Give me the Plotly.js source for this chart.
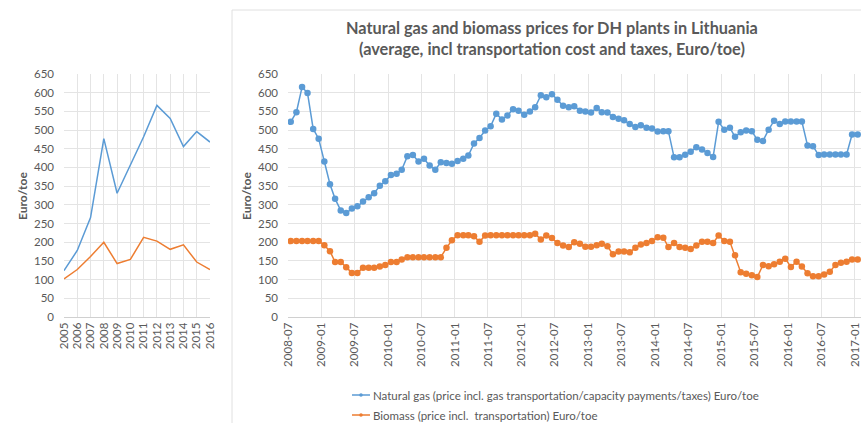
<!DOCTYPE html>
<html>
<head>
<meta charset="utf-8">
<script src="https://cdn.plot.ly/plotly-3.0.1.min.js"></script>
<style>html,body{margin:0;padding:0;background:#fff;overflow:hidden}#chart{width:861px;height:423px}</style>
</head>
<body>
<div id="chart"></div>
<script>
// Annual panel
const years = [2005,2006,2007,2008,2009,2010,2011,2012,2013,2014,2015,2016];
const annualGas = [124,178,266,477,331,405,482,566,531,456,496,468];
const annualBio = [102,127,162,200,143,154,213,203,181,193,147,127];

// Monthly panel (2008-07 .. 2017-01)
const startYear = 2008, startMonth = 7;
const monthlyGas = [
  522,548,615,599,503,477,416,355,316,285,
  278,290,296,309,320,331,351,363,380,383,
  394,430,433,416,423,405,394,414,412,410,
  417,423,432,464,479,499,510,544,528,539,
  556,552,541,550,561,593,588,596,581,565,
  561,564,552,550,547,559,548,547,535,530,
  526,516,508,513,506,504,496,497,497,427,
  427,434,442,454,448,439,428,522,501,506,
  482,494,499,497,474,471,501,525,516,523,
  523,523,523,459,457,433,435,435,435,435,
  435,488,488
];
const monthlyBio = [
  203,203,203,203,203,203,192,176,147,147,
  133,118,118,132,132,132,135,139,147,147,
  154,160,160,160,160,160,160,160,185,205,
  219,219,219,216,201,218,219,219,219,219,
  219,219,219,219,223,207,218,211,198,191,
  187,200,196,188,188,192,196,189,168,175,
  175,173,185,194,198,203,213,212,187,198,
  187,185,182,191,201,201,198,218,203,201,
  165,120,116,112,107,139,136,141,148,156,
  134,148,135,117,109,109,114,121,139,145,
  148,154,154
];
const seriesNames = [
  'Natural gas (price incl. gas transportation/capacity payments/taxes) Euro/toe',
  'Biomass (price incl.  transportation) Euro/toe'
];
const titleText = '<b>Natural gas and biomass prices for DH plants in Lithuania</b><br><b>(average, incl transportation cost and taxes, Euro/toe)</b>';
const yTitle = 'Euro/toe';

// month categories, placed mid-month (Excel draws points between tick marks)
const months = monthlyGas.map((_, i) => {
  const m = startMonth - 1 + i;
  const y = startYear + Math.floor(m / 12);
  const mm = (m % 12) + 1;
  return y + '-' + String(mm).padStart(2, '0') + '-16';
});

const BLUE = '#5B9BD5', ORANGE = '#ED7D31', TXT = '#595959', GRID = '#e4e4e4';
const COLORS = [BLUE, ORANGE];
const FONT = 'Lato, "Open Sans", sans-serif';
const W = 861, H = 423;
const px = v => v / W, py = v => 1 - v / H;

const traces = [
  {x: years, y: annualGas, xaxis: 'x', yaxis: 'y', mode: 'lines', line: {color: BLUE, width: 1.5}},
  {x: years, y: annualBio, xaxis: 'x', yaxis: 'y', mode: 'lines', line: {color: ORANGE, width: 1.5}},
  {x: months, y: monthlyGas, xaxis: 'x2', yaxis: 'y2', name: seriesNames[0], mode: 'lines+markers', line: {color: BLUE, width: 1.5}, marker: {color: BLUE, size: 6.5}},
  {x: months, y: monthlyBio, xaxis: 'x2', yaxis: 'y2', name: seriesNames[1], mode: 'lines+markers', line: {color: ORANGE, width: 1.5}, marker: {color: ORANGE, size: 6.5}}
];

const yCommon = {
  range: [0, 650], dtick: 50, tick0: 0, showgrid: true, gridcolor: GRID, gridwidth: 1,
  zeroline: false, showline: false, ticks: '', ticklabelstandoff: 9,
  tickfont: {family: FONT, size: 11.5, color: TXT}, fixedrange: true
};
const xTickFont = {family: FONT, size: 11.5, color: TXT};

// hand-made legend (Excel style: short line with a small dot)
const legendRows = [395, 415];
const legendShapes = [], legendAnn = [];
seriesNames.forEach((name, k) => {
  const yy = py(legendRows[k]);
  legendShapes.push({type: 'line', xref: 'paper', yref: 'paper', x0: px(352), x1: px(370), y0: yy, y1: yy,
                     line: {color: COLORS[k], width: 1.5}});
  legendShapes.push({type: 'circle', xref: 'paper', yref: 'paper', x0: px(359.2), x1: px(362.8),
                     y0: yy - 1.8 / H, y1: yy + 1.8 / H, fillcolor: COLORS[k], line: {width: 0}});
  legendAnn.push({text: name, x: px(371), y: yy, xref: 'paper', yref: 'paper', xanchor: 'left', yanchor: 'middle',
                  showarrow: false, font: {family: FONT, size: 11.5, color: TXT}});
});

const layout = {
  width: W, height: H,
  margin: {l: 0, r: 0, t: 0, b: 0, pad: 0},
  paper_bgcolor: '#fff', plot_bgcolor: '#fff',
  showlegend: false,
  xaxis: {domain: [px(64), px(210)], anchor: 'y', range: [2005, 2016], dtick: 1, tick0: 2005,
          tickangle: -90, showgrid: true, gridcolor: GRID, zeroline: false, showline: true,
          linecolor: '#d0d0d0', ticks: '', tickfont: xTickFont, fixedrange: true, ticklabeloverflow: 'allow'},
  yaxis: Object.assign({}, yCommon, {domain: [1 - 317 / H, 1 - 74 / H], anchor: 'x'}),
  xaxis2: {domain: [px(288), 1], anchor: 'y2', type: 'date', range: ['2008-07-01', '2017-02-03'],
           dtick: 'M6', tick0: '2008-07-01', tickformat: '%Y-%m', tickangle: -90,
           showgrid: true, gridcolor: GRID, zeroline: false, showline: true, linecolor: '#d0d0d0',
           ticks: '', tickfont: xTickFont, fixedrange: true, ticklabeloverflow: 'allow'},
  yaxis2: Object.assign({}, yCommon, {domain: [1 - 317 / H, 1 - 74 / H], anchor: 'x2'}),
  annotations: [
    {text: titleText, x: px(552), y: py(38), xref: 'paper', yref: 'paper', xanchor: 'center', yanchor: 'middle',
     showarrow: false, font: {family: FONT, size: 16.3, color: TXT}},
    {text: '<b>' + yTitle + '</b>', x: px(22), y: py(196), xref: 'paper', yref: 'paper', textangle: -90,
     xanchor: 'center', yanchor: 'middle', showarrow: false, font: {family: FONT, size: 12, color: TXT}},
    {text: '<b>' + yTitle + '</b>', x: px(246), y: py(196), xref: 'paper', yref: 'paper', textangle: -90,
     xanchor: 'center', yanchor: 'middle', showarrow: false, font: {family: FONT, size: 12, color: TXT}}
  ].concat(legendAnn),
  shapes: [
    {type: 'line', xref: 'paper', yref: 'paper', x0: px(232), x1: px(232), y0: py(10), y1: 0, line: {color: '#e0e0e0', width: 1}},
    {type: 'line', xref: 'paper', yref: 'paper', x0: px(232), x1: 1, y0: py(10), y1: py(10), line: {color: '#e0e0e0', width: 1}}
  ].concat(legendShapes)
};

Plotly.newPlot('chart', traces, layout, {displayModeBar: false, staticPlot: true});
</script>
</body>
</html>
